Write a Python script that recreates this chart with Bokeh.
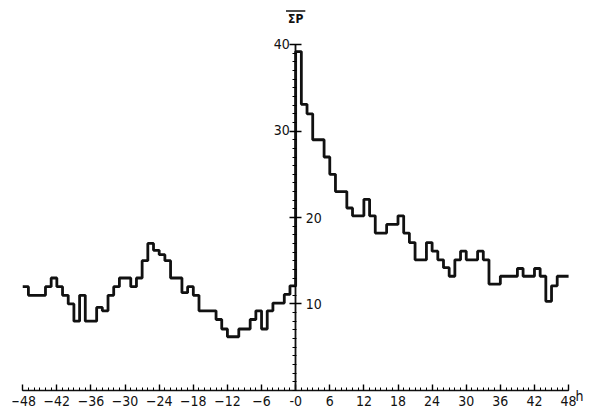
from bokeh.plotting import figure
from bokeh.models import Range1d, LinearAxis, FixedTicker, Label
from bokeh.embed import file_html
from bokeh.resources import INLINE

# hourly bins, -48 h ... +47 h (bin start), values of sum P
hours = list(range(-48, 48))
values_before = [12, 11, 11, 11, 12, 13, 12, 11, 10, 8,
                 11, 8, 8, 9.6, 9.2, 11, 12, 13, 13, 12,
                 13, 15, 17, 16.2, 15.7, 15, 13, 13, 11.3, 12,
                 11, 9.2, 9.2, 9.2, 8.2, 7.1, 6.2, 6.2, 7.1, 7.1,
                 8.2, 9.2, 7.1, 9.2, 10.1, 10.1, 11.1, 12.1]
values_after = [39.2, 33.1, 32.0, 29.0, 29.0, 27.0, 25.0, 23, 23, 21.1,
                20.2, 20.2, 22.1, 20.2, 18.2, 18.2, 19.2, 19.2, 20.2, 18.2,
                17.1, 15.1, 15.1, 17.1, 16.1, 15.1, 14.2, 13.2, 15.1, 16.1,
                15.1, 15.1, 16.1, 15.1, 12.3, 12.3, 13.2, 13.2, 13.2, 14.1,
                13.2, 13.2, 14.1, 13.2, 10.3, 12.1, 13.2, 13.2]
values = values_before + values_after

x_ticks = list(range(-48, 49, 6))
y_ticks = [10, 20, 30, 40]
y_labels_left = ["30", "40"]

FONT = "DejaVu Sans Condensed"

p = figure(width=584, height=408, output_backend="svg", toolbar_location=None,
           x_range=Range1d(-49.8, 50.8), y_range=Range1d(-2.1, 44.3),
           x_axis_location=None, y_axis_location=None,
           min_border_left=12, min_border_right=0,
           min_border_top=7, min_border_bottom=0)
p.outline_line_color = None
p.xgrid.visible = False
p.ygrid.visible = False
p.background_fill_color = "white"

# step curve
xs = hours + [48]
ys = values + [values[-1]]
p.step(xs, ys, mode="after", line_color="#111111", line_width=2.8)

# x axis at y = 0
xa = LinearAxis(fixed_location=0, bounds=(-48, 48))
xa.ticker = FixedTicker(ticks=x_ticks, minor_ticks=list(range(-48, 49)))
xa.major_label_overrides = {0: "-0"}
xa.axis_line_width = 1.6
xa.axis_line_color = "#111111"
xa.major_tick_in = 6
xa.major_tick_out = 0
xa.minor_tick_in = 3
xa.minor_tick_out = 0
xa.major_tick_line_width = 1.4
xa.minor_tick_line_width = 1
xa.major_label_standoff = 6
xa.major_label_text_font = FONT
xa.major_label_text_font_size = "14px"
xa.major_label_text_color = "#111111"
p.add_layout(xa, "below")

# y axis drawn at x = 0
ya = LinearAxis(fixed_location=0, bounds=(0, 40))
ya.ticker = FixedTicker(ticks=y_ticks, minor_ticks=list(range(0, 41)))
ya.major_label_overrides = {30: "", 40: ""}
ya.axis_line_width = 1.8
ya.axis_line_color = "#111111"
ya.major_tick_in = 6
ya.major_tick_out = 6
ya.minor_tick_in = 3
ya.minor_tick_out = 1
ya.major_tick_line_width = 1.4
ya.major_label_standoff = 4
ya.major_label_text_font = FONT
ya.major_label_text_font_size = "14px"
ya.major_label_text_color = "#111111"
p.add_layout(ya, "right")

for lab in y_labels_left:
    p.add_layout(Label(x=0, y=float(lab), text=lab, x_offset=-6, y_offset=1,
                       text_align="right", text_baseline="middle",
                       text_font=FONT, text_font_size="14px", text_color="#111111"))
p.add_layout(Label(x=0, y=43, text="ΣP", text_align="center", text_baseline="middle",
                   text_font=FONT, text_font_size="12px", text_font_style="bold",
                   text_color="#111111"))
p.segment(x0=[-1.7], y0=[43.9], x1=[1.7], y1=[43.9], line_color="#111111", line_width=1.5)
p.add_layout(Label(x=48, y=0, text="h", x_offset=7, y_offset=-6,
                   text_align="left", text_baseline="middle",
                   text_font=FONT, text_font_size="14px", text_color="#111111"))

open("out.html", "w").write(file_html(p, INLINE))
